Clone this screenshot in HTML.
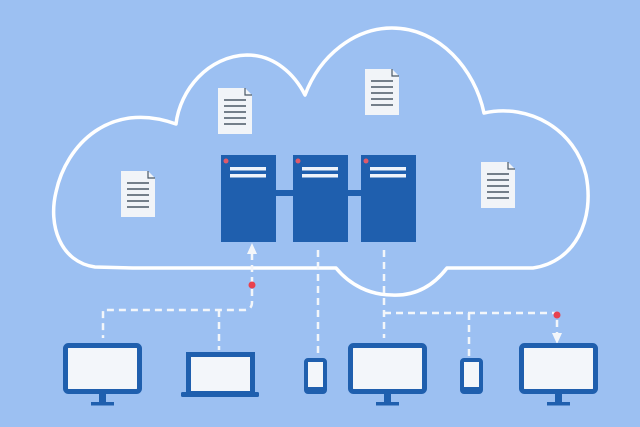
<!DOCTYPE html>
<html><head><meta charset="utf-8"><style>html,body{margin:0;padding:0;background:#9cc0f2}svg{display:block}</style></head>
<body>
<svg width="640" height="427" viewBox="0 0 640 427" xmlns="http://www.w3.org/2000/svg">
<rect width="640" height="427" fill="#9cc0f2"/>
<defs>
<g id="doc">
<path d="M0 0 H27 L34 7 V46 H0 Z" fill="#f1f4f8"/>
<path d="M27 0 V7 H34" fill="none" stroke="#4a5866" stroke-width="1.2"/>
<g stroke="#4a5866" stroke-width="1.6">
<line x1="6" y1="12" x2="28" y2="12"/><line x1="6" y1="18" x2="28" y2="18"/><line x1="6" y1="24" x2="28" y2="24"/><line x1="6" y1="30" x2="28" y2="30"/><line x1="6" y1="36" x2="28" y2="36"/>
</g></g>
<g id="srv">
<rect x="0" y="0" width="55" height="87" fill="#1f5fae"/>
<circle cx="5" cy="6" r="2.5" fill="#e05a6a"/>
<rect x="9" y="12" width="36" height="3.5" fill="#eef3fa"/>
<rect x="9" y="19" width="36" height="3.5" fill="#eef3fa"/>
</g>
<g id="mon">
<rect x="2.5" y="2.5" width="74" height="46" rx="3" fill="#f3f6fa" stroke="#1f5fae" stroke-width="5"/>
<rect x="36" y="50" width="7" height="11" fill="#1f5fae"/>
<rect x="28" y="59" width="23" height="3.5" fill="#1f5fae"/>
</g>
<g id="tab">
<rect x="2" y="2" width="19" height="32" rx="2" fill="#f3f6fa" stroke="#1f5fae" stroke-width="4"/>
<rect x="2" y="29" width="19" height="5" fill="#1f5fae"/>
</g>
</defs>
<path d="M95 267 C60 262 48 225 56 192 C66 145 110 100 176 124 C180 90 208 56 247 55 C275 55 295 75 305 95 C320 55 355 28 392 28 C440 28 475 70 484 113 C530 103 575 130 586 175 C595 220 575 262 533 268 L447 268 C430 290 410 296 392 295 C370 295 350 285 336 268 L133 268 Z" fill="none" stroke="#ffffff" stroke-width="3.5" stroke-linejoin="round"/>
<use href="#doc" x="121" y="171"/>
<use href="#doc" x="218" y="88"/>
<use href="#doc" x="365" y="69"/>
<use href="#doc" x="481" y="162"/>
<rect x="275" y="190" width="20" height="6" fill="#1f5fae"/>
<rect x="346" y="190" width="17" height="6" fill="#1f5fae"/>
<use href="#srv" x="221" y="155"/>
<use href="#srv" x="293" y="155"/>
<use href="#srv" x="361" y="155"/>
<g fill="none" stroke="#f3f6fa" stroke-width="2.5" stroke-dasharray="7 5">
<path d="M252 253 V302 Q252 310 244 310 H103 V338"/>
<path d="M219 310 V350"/>
<path d="M318 250 V356"/>
<path d="M384 250 V338"/>
<path d="M384 313 H557 V334"/>
<path d="M469 313 V356"/>
</g>
<path d="M247 254 L252 243 L257 254 Z" fill="#f3f6fa"/>
<path d="M552 333 L557 344 L562 333 Z" fill="#f3f6fa"/>
<circle cx="252" cy="285" r="3.5" fill="#e8414e"/>
<circle cx="557" cy="315" r="3.5" fill="#e8414e"/>
<use href="#mon" x="63" y="343"/>
<use href="#mon" x="348" y="343"/>
<use href="#mon" x="519" y="343"/>
<rect x="188.5" y="354.5" width="64" height="39" fill="#f3f6fa" stroke="#1f5fae" stroke-width="5"/>
<rect x="181" y="392" width="78" height="5" rx="1.5" fill="#1f5fae"/>
<use href="#tab" x="304" y="358"/>
<use href="#tab" x="460" y="358"/>
</svg>
</body></html>
